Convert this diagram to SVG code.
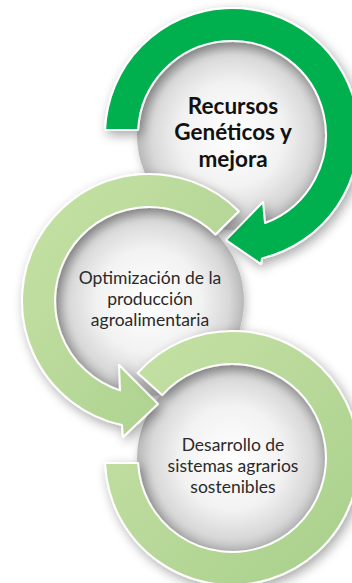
<svg xmlns="http://www.w3.org/2000/svg" width="352" height="583" viewBox="0 0 352 583">
<style>
.ring{stroke:#ffffff;stroke-width:2;stroke-linejoin:round}
.dark{fill:#00B050}
.light{fill:url(#lg)}
.disc{fill:url(#dg)}
.t{font-family:Lato,"Open Sans","Liberation Sans",sans-serif;text-anchor:middle;fill:#2a2a2a}
.tb{font-weight:bold;font-size:22.5px;fill:#111}
.tr{font-size:17.5px}
</style>
<defs>
<radialGradient id="dg" cx="0.5" cy="0.5" r="0.5">
<stop offset="0" stop-color="#ffffff"/>
<stop offset="0.55" stop-color="#f2f2f2"/>
<stop offset="0.85" stop-color="#d8d8d8"/>
<stop offset="1" stop-color="#b8b8b8"/>
</radialGradient>
<linearGradient id="lg" x1="0" y1="0" x2="1" y2="1">
<stop offset="0" stop-color="#C7E2A6"/>
<stop offset="1" stop-color="#A8CF8B"/>
</linearGradient>
<filter id="sh" x="-20%" y="-20%" width="140%" height="140%">
<feGaussianBlur in="SourceAlpha" stdDeviation="6"/>
<feOffset dx="3" dy="4"/>
<feComponentTransfer><feFuncA type="linear" slope="0.35"/></feComponentTransfer>
<feMerge><feMergeNode/><feMergeNode in="SourceGraphic"/></feMerge>
</filter>
<filter id="dsh" x="-20%" y="-20%" width="140%" height="140%">
<feGaussianBlur in="SourceAlpha" stdDeviation="5"/>
<feOffset dx="2" dy="3"/>
<feComponentTransfer><feFuncA type="linear" slope="0.25"/></feComponentTransfer>
<feMerge><feMergeNode/><feMergeNode in="SourceGraphic"/></feMerge>
</filter>
</defs>
<rect width="352" height="583" fill="#ffffff"/>
<g id="discs">
<circle class="disc" cx="232" cy="135" r="95" filter="url(#dsh)"/>
<circle class="disc" cx="149" cy="301" r="95" filter="url(#dsh)"/>
<circle class="disc" cx="232" cy="458" r="95" filter="url(#dsh)"/>
</g>
<g id="connectors"></g>
<g id="node1">
<path class="ring dark" filter="url(#sh)" d="M105.1,130 A127,127 0 1 1 262,258.4 L261,264 L226,240 L263,202 L265,223 A94,94 0 1 0 138.1,130 Z"/>
<text class="t tb" x="233" y="114">Recursos</text>
<text class="t tb" x="233" y="140">Genéticos y</text>
<text class="t tb" x="233" y="167">mejora</text>
</g>
<g id="node2">
<path class="ring light" filter="url(#sh)" d="M238.8,211.2 A127,127 0 1 0 122,425.1 L123,437 L158,404 L119,365 L120,390.4 A94,94 0 1 1 215.5,234.5 Z"/>
<text class="t tr" x="150" y="284">Optimización de la</text>
<text class="t tr" x="150" y="305">producción</text>
<text class="t tr" x="150" y="326">agroalimentaria</text>
</g>
<g id="node3">
<path class="ring light" filter="url(#sh)" d="M137.6,373 A127,127 0 1 1 105.1,463 L138.1,463 A94,94 0 1 0 162.1,395.1 Z"/>
<text class="t tr" x="233" y="451">Desarrollo de</text>
<text class="t tr" x="233" y="472">sistemas agrarios</text>
<text class="t tr" x="233" y="493">sostenibles</text>
</g>
</svg>
